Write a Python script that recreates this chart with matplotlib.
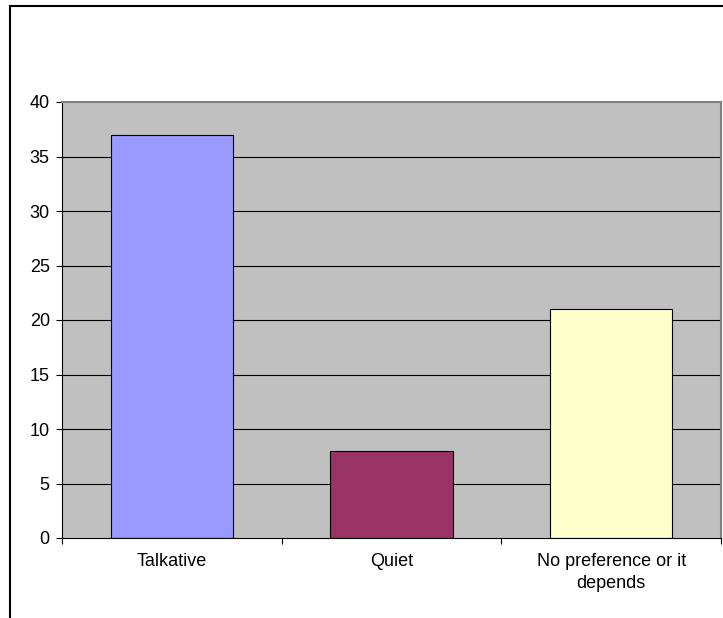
import matplotlib
matplotlib.use("Agg")
import matplotlib.pyplot as plt
from matplotlib.lines import Line2D
import numpy as np

categories = ["Talkative", "Quiet", "No preference or it\ndepends"]
counts = [37, 8, 21]
bar_colors = ["#9999FF", "#993366", "#FFFFCC"]
y_ticks = [0, 5, 10, 15, 20, 25, 30, 35, 40]

plt.rcParams.update({'font.family': 'Liberation Sans', 'font.size': 13})

fig = plt.figure(figsize=(7.23, 6.18), dpi=100)
ax = fig.add_axes([62/723, 80/618, (721-62)/723, (538-102)/618])

x = np.arange(len(categories))
ax.set_facecolor("#C0C0C0")
for yv in y_ticks[1:-1]:
    ax.axhline(yv, color="black", linewidth=0.8, zorder=1)
ax.bar(x, counts, width=1/1.8, color=bar_colors, edgecolor="black", linewidth=0.8, zorder=2)

ax.set_xlim(-0.5, len(categories) - 0.5)
ax.set_ylim(0, 40)
ax.set_yticks(y_ticks)
ax.set_xticks(x)
ax.set_xticklabels(categories, linespacing=1.35)
ax.set_xticks(np.arange(-0.5, len(categories)), minor=True)
ax.tick_params(axis="x", which="major", length=0, pad=11)
ax.tick_params(axis="x", which="minor", length=4.3, direction="out", width=0.8)
ax.tick_params(axis="y", length=4.3, direction="out", width=0.8, pad=4.5)

for side in ["left", "bottom"]:
    ax.spines[side].set_color("black")
    ax.spines[side].set_linewidth(0.8)
for side in ["top", "right"]:
    ax.spines[side].set_color("#808080")
    ax.spines[side].set_linewidth(1.5)

# outer chart frame
fx = 10/723
fy = 1 - 6/618
fig.add_artist(Line2D([fx, fx], [0, fy], color="black", linewidth=1.5, transform=fig.transFigure))
fig.add_artist(Line2D([fx, 1], [fy, fy], color="black", linewidth=1.5, transform=fig.transFigure))

fig.savefig("out.png", dpi=100)
